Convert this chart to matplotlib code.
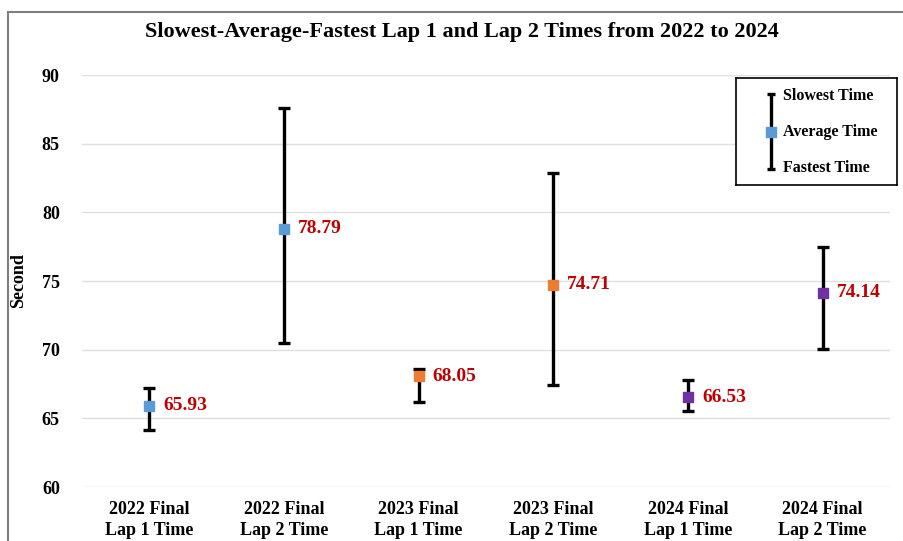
import numpy as np
import matplotlib
matplotlib.use("Agg")
import matplotlib.pyplot as plt
from matplotlib.patches import Rectangle

plt.rcParams['font.family'] = ['Liberation Serif', 'DejaVu Serif']
plt.rcParams['font.weight'] = 'bold'

# Datos
categorias = ["2022 Final\nLap 1 Time", "2022 Final\nLap 2 Time",
              "2023 Final\nLap 1 Time", "2023 Final\nLap 2 Time",
              "2024 Final\nLap 1 Time", "2024 Final\nLap 2 Time"]
promedio = [65.93, 78.79, 68.05, 74.71, 66.53, 74.14]
lento = [67.2, 87.6, 68.6, 82.9, 67.8, 77.5]
rapido = [64.15, 70.5, 66.2, 67.45, 65.5, 70.05]
colores = ["#5B9BD5", "#5B9BD5", "#ED7D31", "#ED7D31", "#7030A0", "#7030A0"]

fig = plt.figure(figsize=(9.04, 5.41), dpi=100)
ax = fig.add_axes([82/904, 1-487/541, (890-82)/904, (487-75)/541])

x = np.arange(len(categorias))
for i in x:
    ax.errorbar(i, promedio[i], yerr=[[promedio[i]-rapido[i]], [lento[i]-promedio[i]]],
                fmt='none', ecolor='black', elinewidth=2.4, capsize=4, capthick=2.4, zorder=2)
    ax.plot(i, promedio[i], 's', color=colores[i], markersize=6.5, zorder=3)
    ax.annotate(f"{promedio[i]:.2f}", (i, promedio[i]), xytext=(10, 0),
                textcoords='offset points', va='center', ha='left',
                color='#C00000', fontsize=14, fontweight='bold')

ax.set_xlim(-0.5, len(categorias)-0.5)
ax.set_ylim(60, 90)
ax.set_yticks([60, 65, 70, 75, 80, 85, 90])
ax.set_xticks(x)
ax.set_xticklabels(categorias, fontsize=13, fontweight='bold', linespacing=1.3)
ax.tick_params(axis='y', length=0, pad=16, labelsize=13)
ax.tick_params(axis='x', length=0, pad=10)
ax.yaxis.grid(True, color='#e0e0e0', linewidth=1.0)
ax.set_axisbelow(True)
for s in ax.spines.values():
    s.set_visible(False)
ax.set_ylabel("Second", fontsize=13, fontweight='bold')
ax.yaxis.set_label_coords(-0.068, 0.5)

fig.text(462/904, 1-32/541, "Slowest-Average-Fastest Lap 1 and Lap 2 Times from 2022 to 2024",
         ha='center', va='center', fontsize=16, fontweight='bold')

# borde exterior
fig.patches.append(Rectangle((8/904, -0.1), 2, 0.1+(541-12)/541, transform=fig.transFigure,
                             fill=False, edgecolor='#7f7f7f', linewidth=1.5))

# leyenda manual
lg = fig.add_axes([736/904, 1-185/541, (897-736)/904, (185-78)/541])
lg.set_xlim(0, 1)
lg.set_ylim(0, 1)
lg.set_xticks([])
lg.set_yticks([])
for s in lg.spines.values():
    s.set_linewidth(1.2)
lg.errorbar(0.22, 0.5, yerr=0.35, fmt='none', ecolor='black', elinewidth=2.4,
            capsize=3, capthick=2.4)
lg.plot(0.22, 0.5, 's', color='#5B9BD5', markersize=7.5)
lg.text(0.29, 0.83, "Slowest Time", va='center', fontsize=11.5, fontweight='bold')
lg.text(0.29, 0.5, "Average Time", va='center', fontsize=11.5, fontweight='bold')
lg.text(0.29, 0.16, "Fastest Time", va='center', fontsize=11.5, fontweight='bold')

plt.savefig("out.png", dpi=100)
